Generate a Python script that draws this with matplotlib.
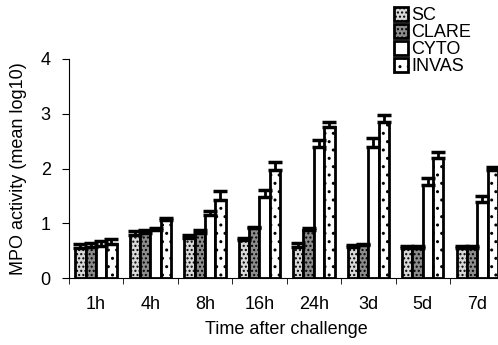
import matplotlib
matplotlib.use('Agg')
import matplotlib.pyplot as plt
from matplotlib.patches import Patch
import numpy as np

plt.rcParams['font.family'] = ['Liberation Sans', 'DejaVu Sans']
plt.rcParams['hatch.linewidth'] = 1.0

times = ['1h', '4h', '8h', '16h', '24h', '3d', '5d', '7d']
groups = ['SC', 'CLARE', 'CYTO', 'INVAS']

sc = [0.55, 0.79, 0.73, 0.69, 0.57, 0.57, 0.55, 0.55]
sc_err = [0.07, 0.07, 0.06, 0.05, 0.07, 0.03, 0.03, 0.03]
clare = [0.57, 0.82, 0.82, 0.91, 0.88, 0.60, 0.55, 0.55]
clare_err = [0.07, 0.06, 0.06, 0.03, 0.03, 0.03, 0.03, 0.03]
cyto = [0.58, 0.88, 1.15, 1.48, 2.39, 2.39, 1.70, 1.39]
cyto_err = [0.10, 0.03, 0.07, 0.12, 0.13, 0.16, 0.13, 0.10]
invas = [0.62, 1.06, 1.42, 1.97, 2.76, 2.85, 2.19, 1.97]
invas_err = [0.09, 0.04, 0.17, 0.15, 0.09, 0.13, 0.11, 0.06]

vals = [sc, clare, cyto, invas]
errs = [sc_err, clare_err, cyto_err, invas_err]
faces = ['#d8d8d8', '#8c8c8c', 'white', 'white']
hatches = ['....', '....', None, '..']

fig = plt.figure(figsize=(4.98, 3.45), dpi=100)
ax = fig.add_axes([0.138, 0.194, 0.875, 0.635])

x = np.arange(len(times))
w = 0.19
for i, name in enumerate(groups):
    pos = x + (i - 1.5) * w
    ax.bar(pos, vals[i], w, color=faces[i], edgecolor='black', linewidth=2,
           hatch=hatches[i], zorder=2)
    ax.errorbar(pos, vals[i], yerr=[np.zeros(len(times)), errs[i]], fmt='none',
                ecolor='black', elinewidth=2, capsize=5, capthick=2.5, zorder=3)

ax.set_xlim(-0.5, 7.4)
ax.set_ylim(0, 4)
ax.set_yticks([0, 1, 2, 3, 4])
ax.set_xticks(x)
ax.set_xticklabels(times)
ax.set_xticks(np.arange(-0.5, 8, 1), minor=True)
ax.tick_params(axis='x', which='major', length=0, pad=13, labelsize=13)
ax.tick_params(axis='x', which='minor', length=4, direction='out')
ax.tick_params(axis='y', length=5, labelsize=13, pad=8)
for s in ['top', 'right']:
    ax.spines[s].set_visible(False)

ax.set_xlabel('Time after challenge', fontsize=13, labelpad=6)
ax.set_ylabel('MPO activity (mean log10)', fontsize=13, labelpad=10)

handles = [Patch(facecolor=faces[i], edgecolor='black', linewidth=2,
                 hatch=hatches[i], label=groups[i]) for i in range(4)]
fig.legend(handles=handles, loc='upper left', bbox_to_anchor=(0.777, 1.0),
           frameon=False, fontsize=13, handlelength=0.75, handleheight=0.75,
           handletextpad=0.2, labelspacing=0.0, borderaxespad=0)

fig.savefig('out.png', dpi=100)
